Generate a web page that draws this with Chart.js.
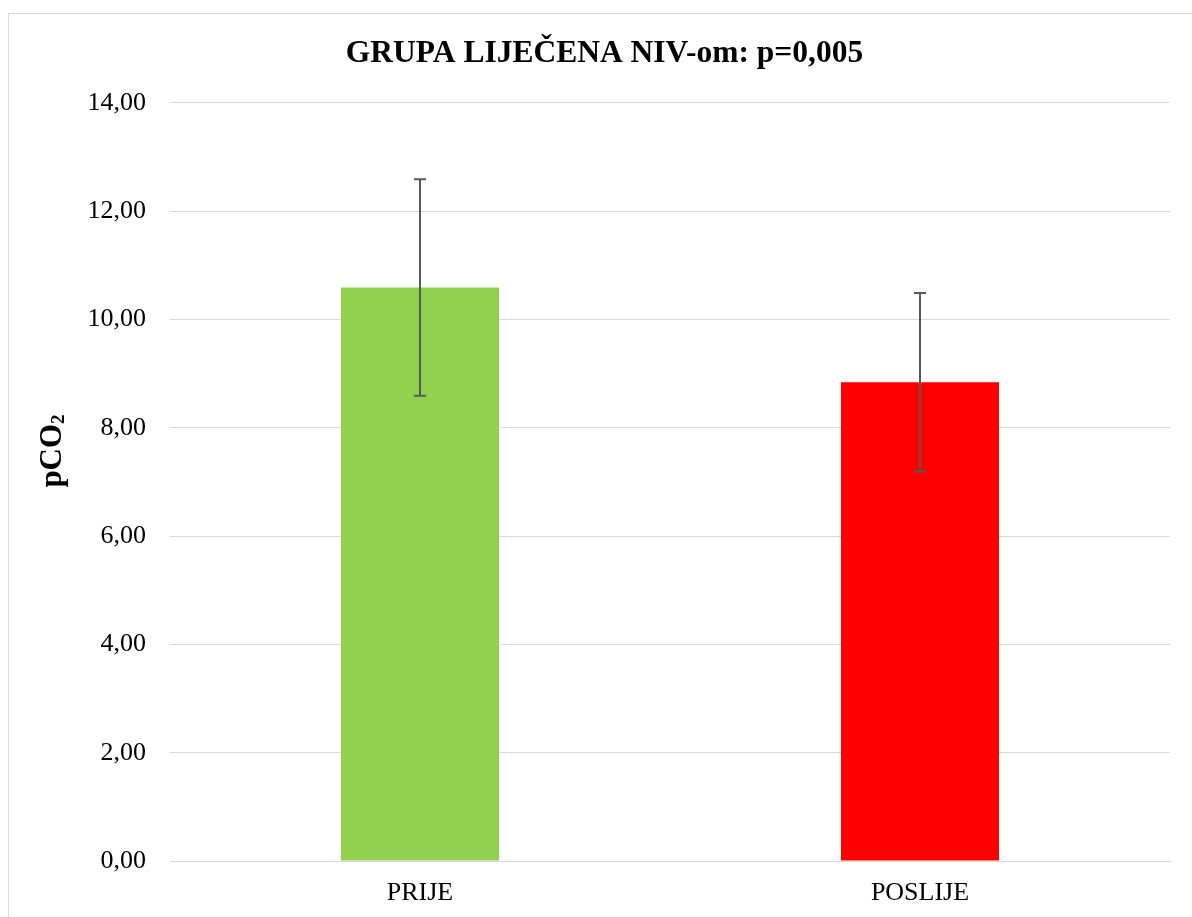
<!DOCTYPE html>
<html>
<head>
<meta charset="utf-8">
<title>pCO2 - grupa liječena NIV-om</title>
<script src="https://cdn.jsdelivr.net/npm/chart.js@4.4.1/dist/chart.umd.min.js"></script>
<style>
    html, body { margin: 0; padding: 0; background: #fff; overflow: hidden; }
    #wrap { position: relative; width: 1192px; height: 917px; }
    #frame { position: absolute; left: 8px; top: 13px; width: 1200px; height: 950px; border: 1px solid #d9d9d9; pointer-events: none; }
    canvas { position: absolute; left: 0; top: 0; }
</style>
</head>
<body>
<div id="wrap">
    <div id="frame"></div>
    <canvas id="pco2Chart" width="1192" height="917"></canvas>
</div>
<script>
// podaci
var categories = ['PRIJE', 'POSLIJE'];
var means = [10.59, 8.84];
var errors = [2.00, 1.65];
var barColors = ['#92d050', '#ff0000'];
var yTicks = [0, 2, 4, 6, 8, 10, 12, 14];

var serif = "'Liberation Serif', 'Times New Roman', serif";

// error bars (mean +/- error), drawn through the y scale
var errorBarPlugin = {
    id: 'errorBars',
    afterDatasetsDraw: function (chart) {
        var ctx = chart.ctx;
        var yScale = chart.scales.y;
        var meta = chart.getDatasetMeta(0);
        ctx.save();
        ctx.strokeStyle = '#595959';
        ctx.lineWidth = 2;
        meta.data.forEach(function (bar, i) {
            var x = Math.round(bar.x);
            var top = yScale.getPixelForValue(means[i] + errors[i]);
            var bottom = yScale.getPixelForValue(means[i] - errors[i]);
            ctx.beginPath();
            ctx.moveTo(x, top);
            ctx.lineTo(x, bottom);
            ctx.moveTo(x - 6, top);
            ctx.lineTo(x + 6, top);
            ctx.moveTo(x - 6, bottom);
            ctx.lineTo(x + 6, bottom);
            ctx.stroke();
        });
        ctx.restore();
    }
};

// y axis title "pCO2" with a real subscript 2
var yTitlePlugin = {
    id: 'yTitle',
    afterDraw: function (chart) {
        var ctx = chart.ctx;
        var mainFont = 'bold 31px ' + serif;
        var subFont = 'bold 19px ' + serif;
        ctx.save();
        ctx.font = mainFont;
        var w1 = ctx.measureText('pCO').width;
        ctx.font = subFont;
        var w2 = ctx.measureText('2').width;
        ctx.translate(61, 451);
        ctx.rotate(-Math.PI / 2);
        ctx.fillStyle = '#000';
        ctx.textBaseline = 'alphabetic';
        ctx.textAlign = 'left';
        var start = -(w1 + w2) / 2;
        ctx.font = mainFont;
        ctx.fillText('pCO', start, 0);
        ctx.font = subFont;
        ctx.fillText('2', start + w1, 3);
        ctx.restore();
    }
};

new Chart(document.getElementById('pco2Chart'), {
    type: 'bar',
    data: {
        labels: categories,
        datasets: [
            {
                label: 'pCO2',
                data: means,
                backgroundColor: barColors,
                borderWidth: 0,
                barPercentage: 0.316,
                categoryPercentage: 1
            }
        ]
    },
    options: {
        responsive: false,
        animation: false,
        layout: {
            padding: { left: 39, right: 22, top: 0, bottom: 0 }
        },
        plugins: {
            legend: { display: false },
            tooltip: { enabled: false },
            title: {
                display: true,
                text: 'GRUPA LIJEČENA NIV-om: p=0,005',
                color: '#000',
                font: { family: serif, size: 31.5, weight: 'bold' },
                padding: { top: 35, bottom: 30 }
            }
        },
        scales: {
            x: {
                afterFit: function (scale) {
                    scale.height = 56;
                },
                grid: { display: false, drawTicks: false },
                border: { display: true, color: '#d9d9d9' },
                ticks: {
                    color: '#000',
                    padding: 17,
                    font: { family: serif, size: 26 }
                }
            },
            y: {
                min: 0,
                max: 14,
                afterFit: function (scale) {
                    scale.width = 131;
                },
                afterBuildTicks: function (scale) {
                    scale.ticks = yTicks.map(function (v) { return { value: v }; });
                },
                grid: { color: '#d9d9d9', lineWidth: 1, drawTicks: false },
                border: { display: false },
                ticks: {
                    color: '#000',
                    padding: 24,
                    font: { family: serif, size: 26 },
                    callback: function (value) {
                        return value.toFixed(2).replace('.', ',');
                    }
                }
            }
        }
    },
    plugins: [errorBarPlugin, yTitlePlugin]
});
</script>
</body>
</html>
